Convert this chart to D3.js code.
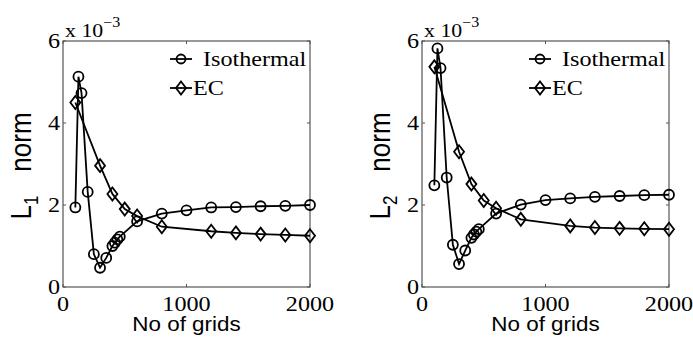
<!DOCTYPE html>
<meta charset="utf-8">
<html lang="en">
<head>
    <meta charset="utf-8">
    <style>
        body { margin: 0; background: #fff; }
        svg { display: block; }
        .tick-label { font-family: "Liberation Serif", serif; font-size: 21px; fill: #000; }
        .ax-label { font-family: "Liberation Sans", Arial, sans-serif; fill: #000; }
        .legend-text { font-family: "Liberation Serif", serif; font-size: 21px; fill: #000; }
    </style>
</head>
<body>
    <div id="my_dataviz"></div>
    <script src="https://d3js.org/d3.v7.min.js"></script>
    <script>
        // grid counts and error norms (x 10^-3)
        var isoGrids = [100, 125, 150, 200, 250, 300, 350, 400, 420, 440, 460, 600, 800, 1000, 1200, 1400, 1600, 1800, 2000];
        var ecGrids = [100, 300, 400, 500, 600, 800, 1200, 1400, 1600, 1800, 2000];

        var isoL1 = [1.94, 5.13, 4.73, 2.32, 0.80, 0.47, 0.71, 1.00, 1.08, 1.16, 1.23, 1.60, 1.79, 1.87, 1.94, 1.95, 1.97, 1.98, 2.00];
        var ecL1 = [4.50, 2.96, 2.27, 1.90, 1.73, 1.47, 1.36, 1.32, 1.29, 1.27, 1.25];

        var isoL2 = [2.48, 5.82, 5.34, 2.67, 1.03, 0.56, 0.89, 1.20, 1.28, 1.35, 1.41, 1.79, 2.01, 2.12, 2.16, 2.20, 2.22, 2.24, 2.25];
        var ecL2 = [5.37, 3.30, 2.51, 2.11, 1.92, 1.65, 1.49, 1.45, 1.43, 1.42, 1.41];

        var xTicks = [0, 1000, 2000];
        var yTicks = [0, 2, 4, 6];
        var seriesNames = ["Isothermal", "EC"];

        var W = 693, H = 338;
        var svg = d3.select("#my_dataviz")
            .append("svg")
            .attr("width", W)
            .attr("height", H);

        var panels = [
            { left: 63, sub: "1", iso: isoL1, ec: ecL1 },
            { left: 422, sub: "2", iso: isoL2, ec: ecL2 }
        ];
        var pw = 247, plotTop = 41, plotBottom = 287;
        var sx = 1.15; // text in the reference is a bit wide
        var lw = 1.8;

        function diamond(g, cx, cy) {
            g.append("path")
                .attr("d", "M" + cx + "," + (cy - 6.5) + "L" + (cx + 5) + "," + cy + "L" + cx + "," + (cy + 6.5) + "L" + (cx - 5) + "," + cy + "Z")
                .attr("fill", "none")
                .attr("stroke", "#000")
                .attr("stroke-width", lw);
        }

        panels.forEach(function (p) {
            var x = d3.scaleLinear().domain([0, 2000]).range([p.left, p.left + pw]);
            var y = d3.scaleLinear().domain([0, 6]).range([plotBottom, plotTop]);
            var g = svg.append("g");

            // box
            g.append("rect")
                .attr("x", p.left).attr("y", plotTop)
                .attr("width", pw).attr("height", plotBottom - plotTop)
                .attr("fill", "none").attr("stroke", "#555").attr("stroke-width", 1.2);

            // inward ticks on all sides
            xTicks.forEach(function (t) {
                g.append("line").attr("x1", x(t)).attr("x2", x(t)).attr("y1", plotBottom).attr("y2", plotBottom - 3).attr("stroke", "#555");
                g.append("line").attr("x1", x(t)).attr("x2", x(t)).attr("y1", plotTop).attr("y2", plotTop + 3).attr("stroke", "#555");
                g.append("text").attr("class", "tick-label")
                    .attr("text-anchor", "middle")
                    .attr("transform", "translate(" + x(t) + "," + 311 + ") scale(" + sx + ",1)")
                    .text(t);
            });
            yTicks.forEach(function (t) {
                g.append("line").attr("x1", p.left).attr("x2", p.left + 3).attr("y1", y(t)).attr("y2", y(t)).attr("stroke", "#555");
                g.append("line").attr("x1", p.left + pw).attr("x2", p.left + pw - 3).attr("y1", y(t)).attr("y2", y(t)).attr("stroke", "#555");
                g.append("text").attr("class", "tick-label")
                    .attr("text-anchor", "end")
                    .attr("transform", "translate(" + (p.left - 3) + "," + (y(t) + 7) + ") scale(" + sx + ",1)")
                    .text(t);
            });

            // exponent
            var ex = g.append("text").attr("class", "tick-label")
                .attr("transform", "translate(" + (p.left + 2) + ",37) scale(" + sx + ",1)")
                .style("font-size", "19px");
            ex.append("tspan").text("x 10");
            ex.append("tspan").attr("dy", -10).style("font-size", "14px").text("\u22123");

            // x label
            g.append("text").attr("class", "ax-label")
                .attr("text-anchor", "middle")
                .attr("transform", "translate(" + (p.left + pw / 2) + ",331) scale(" + sx + ",1)")
                .style("font-size", "19.5px")
                .text("No of grids");

            // y label
            var yl = g.append("text").attr("class", "ax-label")
                .attr("text-anchor", "middle")
                .attr("transform", "translate(" + (p.left - 32) + "," + ((plotTop + plotBottom) / 2 + 2) + ") scale(" + sx + ",1) rotate(-90)")
                .style("font-size", "26px");
            yl.append("tspan").text("L");
            yl.append("tspan").attr("dy", 6).style("font-size", "17px").text(p.sub);
            yl.append("tspan").attr("dy", -6).attr("dx", 24).text("norm");

            var line = d3.line()
                .x(function (d) { return x(d[0]); })
                .y(function (d) { return y(d[1]); });

            var isoData = isoGrids.map(function (v, i) { return [v, p.iso[i]]; });
            var ecData = ecGrids.map(function (v, i) { return [v, p.ec[i]]; });

            g.append("path").attr("d", line(isoData))
                .attr("fill", "none").attr("stroke", "#000").attr("stroke-width", lw);
            g.append("path").attr("d", line(ecData))
                .attr("fill", "none").attr("stroke", "#000").attr("stroke-width", lw);

            isoData.forEach(function (d) {
                g.append("circle").attr("cx", x(d[0])).attr("cy", y(d[1])).attr("r", 5)
                    .attr("fill", "none").attr("stroke", "#000").attr("stroke-width", lw);
            });
            ecData.forEach(function (d) {
                diamond(g, x(d[0]), y(d[1]));
            });

            // legend
            var lx = p.left + 107;
            g.append("line").attr("x1", lx).attr("x2", lx + 22).attr("y1", 59).attr("y2", 59).attr("stroke", "#000").attr("stroke-width", lw);
            g.append("circle").attr("cx", lx + 11).attr("cy", 59).attr("r", 4.5).attr("fill", "none").attr("stroke", "#000").attr("stroke-width", lw);
            g.append("text").attr("class", "legend-text")
                .attr("transform", "translate(" + (lx + 33) + ",66) scale(" + sx + ",1)")
                .text(seriesNames[0]);
            g.append("line").attr("x1", lx).attr("x2", lx + 22).attr("y1", 88).attr("y2", 88).attr("stroke", "#000").attr("stroke-width", lw);
            diamond(g, lx + 11, 88);
            g.append("text").attr("class", "legend-text")
                .attr("transform", "translate(" + (lx + 23) + ",95) scale(" + sx + ",1)")
                .text(seriesNames[1]);
        });
    </script>
</body>
</html>
